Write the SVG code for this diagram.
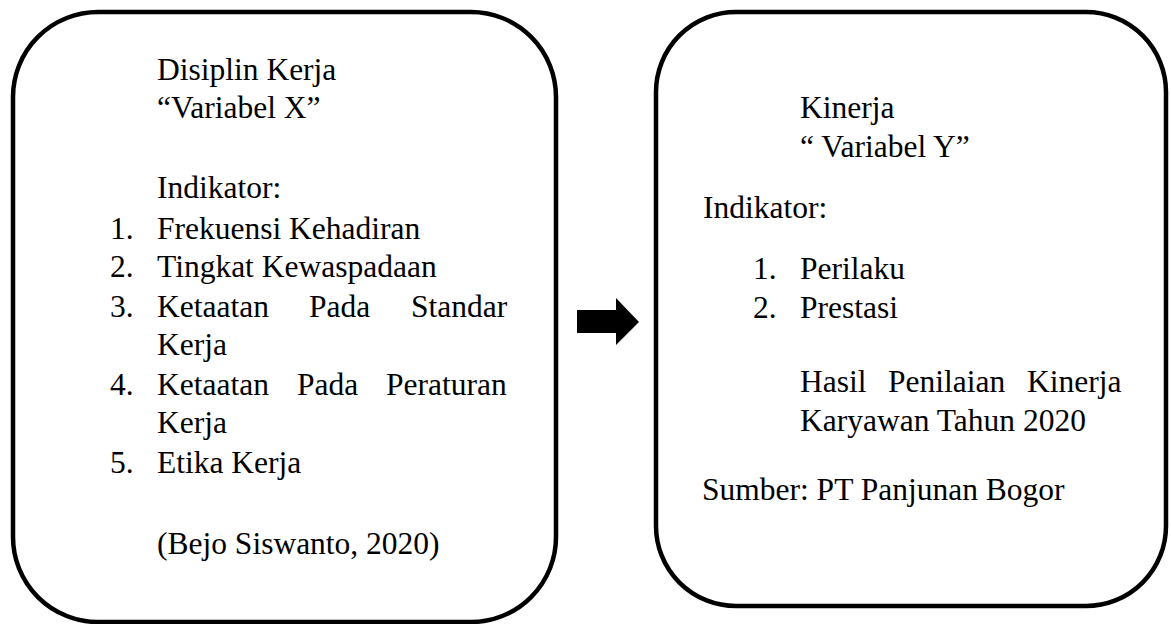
<svg xmlns="http://www.w3.org/2000/svg" width="1171" height="624" viewBox="0 0 1171 624">
<style>
.box{fill:#fff;stroke:#000;stroke-width:4.5}
.t{font-family:'Liberation Serif',Tinos,'Times New Roman',serif;font-size:31.5px;fill:#000}
</style>
<rect width="1171" height="624" fill="#fff"/>
<g id="node-x">
<rect class="box" x="13" y="12" width="543" height="610" rx="85" ry="85"/>
<g class="t">
<text x="157" y="80">Disiplin Kerja</text>
<text x="157" y="118">“Variabel X”</text>
<text x="157" y="198">Indikator:</text>
<text y="239"><tspan x="110">1.</tspan><tspan x="157">Frekuensi Kehadiran</tspan></text>
<text y="277"><tspan x="110">2.</tspan><tspan x="157">Tingkat Kewaspadaan</tspan></text>
<text y="317"><tspan x="110">3.</tspan><tspan x="157">Ketaatan</tspan><tspan x="309">Pada</tspan><tspan x="411">Standar</tspan></text>
<text x="157" y="355">Kerja</text>
<text y="395"><tspan x="110">4.</tspan><tspan x="157">Ketaatan</tspan><tspan x="297">Pada</tspan><tspan x="386">Peraturan</tspan></text>
<text x="157" y="433">Kerja</text>
<text y="473"><tspan x="110">5.</tspan><tspan x="157">Etika Kerja</tspan></text>
<text x="157" y="554">(Bejo Siswanto, 2020)</text>
</g>
</g>
<g id="connectors">
<polygon points="577,310 616,310 616,298 639,322 616,345 616,333 577,333" fill="#000"/>
</g>
<g id="node-y">
<rect class="box" x="656" y="12" width="510" height="594" rx="80" ry="80"/>
<g class="t">
<text x="800" y="118">Kinerja</text>
<text x="800" y="157">“ Variabel Y”</text>
<text x="703" y="218">Indikator:</text>
<text y="279"><tspan x="753">1.</tspan><tspan x="800">Perilaku</tspan></text>
<text y="318"><tspan x="753">2.</tspan><tspan x="800">Prestasi</tspan></text>
<text y="392"><tspan x="800">Hasil</tspan><tspan x="888">Penilaian</tspan><tspan x="1027">Kinerja</tspan></text>
<text x="800" y="431">Karyawan Tahun 2020</text>
<text x="702" y="500">Sumber: PT Panjunan Bogor</text>
</g>
</g>
</svg>
